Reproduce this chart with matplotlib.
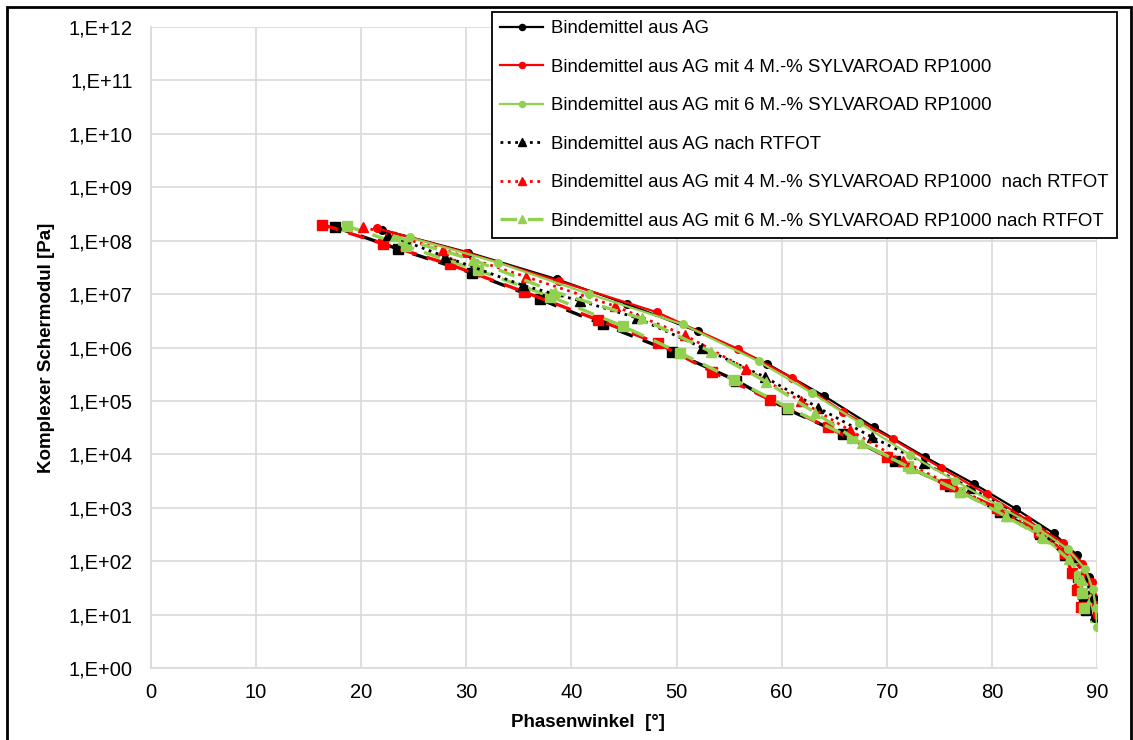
import math
import matplotlib
matplotlib.use("Agg")
import matplotlib.pyplot as plt
from matplotlib.ticker import FixedLocator, FuncFormatter, NullLocator
from matplotlib.patches import Rectangle

plt.rcParams['font.family'] = ['Liberation Sans', 'DejaVu Sans']

# Phase angle [deg] and complex shear modulus [Pa] per binder
ag_x = [22.0, 30.2, 38.6, 45.3, 52.0, 58.6, 64.0, 68.8, 73.6, 78.3, 82.3, 85.9, 88.1, 89.2, 89.7, 89.8]
ag_y = [1.6e8, 6.0e7, 1.9e7, 6.5e6, 2.0e6, 5.0e5, 1.25e5, 3.2e4, 9.0e3, 2.8e3, 9.5e2, 3.3e2, 1.3e2, 5.0e1, 2.0e1, 8.5]

ag4_x = [21.5, 30.0, 38.8, 48.1, 55.8, 61.0, 65.8, 70.6, 75.2, 79.5, 83.3, 86.8, 88.6, 89.5, 89.9, 90.0]
ag4_y = [1.7e8, 6.0e7, 1.75e7, 4.6e6, 9.5e5, 2.7e5, 6.3e4, 1.9e4, 5.5e3, 1.8e3, 6.0e2, 2.2e2, 9.0e1, 4.0e1, 1.5e1, 1.0e1]

ag6_x = [24.6, 33.0, 41.7, 50.6, 57.8, 62.9, 67.4, 72.2, 76.5, 80.6, 84.3, 87.2, 88.9, 89.6, 89.9, 90.0]
ag6_y = [1.15e8, 3.9e7, 1.0e7, 2.7e6, 5.5e5, 1.4e5, 3.9e4, 9.8e3, 3.2e3, 1.1e3, 4.2e2, 1.7e2, 7.0e1, 3.0e1, 1.3e1, 5.9]

rt_x = [22.5, 28.0, 35.4, 40.8, 46.2, 52.4, 58.4, 63.5, 68.6, 73.5, 78.0, 82.0, 85.6, 87.8, 88.9, 89.5, 89.8]
rt_y = [1.3e8, 5.0e7, 1.45e7, 7.5e6, 3.6e6, 1.0e6, 2.8e5, 7.4e4, 2.1e4, 7.0e3, 2.3e3, 8.5e2, 3.0e2, 1.2e2, 5.0e1, 2.2e1, 1.0e1]

rt4_x = [20.2, 27.8, 35.7, 44.1, 50.8, 56.6, 61.8, 66.5, 71.5, 76.4, 80.8, 84.5, 87.2, 88.8, 89.6, 89.9]
rt4_y = [1.8e8, 6.8e7, 2.1e7, 6.0e6, 1.7e6, 4.0e5, 1.0e5, 2.8e4, 7.5e3, 2.5e3, 9.0e2, 3.5e2, 1.4e2, 6.0e1, 2.5e1, 1.1e1]

rt6_x = [23.2, 30.6, 38.4, 46.7, 53.3, 58.5, 63.2, 67.6, 72.3, 77.0, 81.3, 84.8, 87.3, 88.6, 89.4, 89.8]
rt6_y = [1.2e8, 4.4e7, 1.1e7, 3.5e6, 8.3e5, 2.3e5, 6.0e4, 1.6e4, 5.5e3, 2.0e3, 7.0e2, 2.8e2, 1.1e2, 4.5e1, 2.0e1, 9.0]

pav_x = [17.5, 23.5, 30.5, 37.0, 43.0, 49.6, 55.7, 60.5, 65.8, 70.8, 76.0, 80.8, 84.6, 87.0, 88.2, 88.8, 89.0]
pav_y = [1.8e8, 7.0e7, 2.5e7, 8.0e6, 2.7e6, 8.3e5, 2.4e5, 7.0e4, 2.4e4, 7.5e3, 2.5e3, 8.5e2, 3.2e2, 1.3e2, 5.1e1, 2.2e1, 1.2e1]

pav4_x = [16.3, 22.1, 28.4, 35.5, 42.5, 48.2, 53.4, 58.9, 64.4, 70.0, 75.5, 80.5, 84.5, 87.0, 87.6, 88.1, 88.5]
pav4_y = [2.0e8, 8.7e7, 3.6e7, 1.1e7, 3.3e6, 1.2e6, 3.5e5, 1.05e5, 3.2e4, 9.0e3, 2.8e3, 1.0e3, 3.5e2, 1.4e2, 6.0e1, 2.9e1, 1.4e1]

pav6_x = [18.6, 24.3, 31.1, 38.0, 44.9, 50.3, 55.5, 60.6, 66.7, 72.0, 77.0, 81.5, 85.0, 87.5, 88.3, 88.6, 88.8]
pav6_y = [1.9e8, 7.8e7, 2.8e7, 9.0e6, 2.5e6, 8.0e5, 2.5e5, 7.5e4, 2.0e4, 6.0e3, 2.0e3, 7.0e2, 2.7e2, 1.1e2, 5.0e1, 2.5e1, 1.3e1]

labels = [
    "Bindemittel aus AG",
    "Bindemittel aus AG mit 4 M.-% SYLVAROAD RP1000",
    "Bindemittel aus AG mit 6 M.-% SYLVAROAD RP1000",
    "Bindemittel aus AG nach RTFOT",
    "Bindemittel aus AG mit 4 M.-% SYLVAROAD RP1000  nach RTFOT",
    "Bindemittel aus AG mit 6 M.-% SYLVAROAD RP1000 nach RTFOT",
]

x_ticks = [0, 10, 20, 30, 40, 50, 60, 70, 80, 90]
y_exponents = list(range(0, 13))

BLACK = "#000000"
RED = "#ff0000"
GREEN = "#92d050"

fig = plt.figure(figsize=(11.33, 7.40), dpi=100)
ax = fig.add_axes([151 / 1133, 1 - 668 / 740, (1097 - 151) / 1133, (668 - 27) / 740])

dash = (0, (5.0, 3.2))

# lower, dashed band
for xs, ys, c in [(pav_x, pav_y, BLACK), (pav4_x, pav4_y, RED), (pav6_x, pav6_y, GREEN)]:
    ax.plot(xs, ys, color=c, linestyle=dash, linewidth=2.4, marker='s',
            markersize=6.5, label='_nolegend_', zorder=2)

# RTFOT band
ax.plot(rt_x, rt_y, color=BLACK, linestyle=':', linewidth=2.0, marker='^',
        markersize=6.5, label=labels[3], zorder=3)
ax.plot(rt4_x, rt4_y, color=RED, linestyle=':', linewidth=2.0, marker='^',
        markersize=6.5, label=labels[4], zorder=3)
ax.plot(rt6_x, rt6_y, color=GREEN, linestyle=dash, linewidth=2.4, marker='^',
        markersize=6.5, label=labels[5], zorder=3)

# fresh binders, solid
ax.plot(ag_x, ag_y, color=BLACK, linestyle='-', linewidth=1.6, marker='o',
        markersize=5.5, label=labels[0], zorder=4)
ax.plot(ag4_x, ag4_y, color=RED, linestyle='-', linewidth=1.6, marker='o',
        markersize=5.5, label=labels[1], zorder=4)
ax.plot(ag6_x, ag6_y, color=GREEN, linestyle='-', linewidth=1.6, marker='o',
        markersize=5.5, label=labels[2], zorder=4)

ax.set_yscale('log')
ax.set_xlim(0, 90)
ax.set_ylim(1e0, 1e12)
ax.xaxis.set_major_locator(FixedLocator(x_ticks))
ax.yaxis.set_major_locator(FixedLocator([10.0 ** k for k in y_exponents]))
ax.yaxis.set_minor_locator(NullLocator())
ax.yaxis.set_major_formatter(FuncFormatter(lambda v, p: "1,E+%02d" % round(math.log10(v))))

ax.grid(True, which='major', color='#d9d9d9', linewidth=1.2)
ax.set_axisbelow(True)
for side in ['top', 'right']:
    ax.spines[side].set_visible(False)
for side in ['left', 'bottom']:
    ax.spines[side].set_color('#d9d9d9')
    ax.spines[side].set_linewidth(1.2)
ax.tick_params(axis='both', length=0, labelsize=14.5)
ax.tick_params(axis='x', pad=11)
ax.tick_params(axis='y', pad=13)

ax.set_xlabel("Phasenwinkel  [°]", fontsize=13.5, fontweight='bold', labelpad=8)
ax.xaxis.set_label_coords((588 - 151) / 946, -0.072)
ax.set_ylabel("Komplexer Schermodul [Pa]", fontsize=13.5, fontweight='bold', labelpad=10)

handles, labs = ax.get_legend_handles_labels()
order = [labs.index(l) for l in labels]
leg = fig.legend([handles[i] for i in order], [labs[i] for i in order],
                 loc='upper left', bbox_to_anchor=(492 / 1133, 1 - 12 / 740),
                 fontsize=13.4, frameon=True, fancybox=False, edgecolor='#000000',
                 framealpha=1, borderaxespad=0, labelspacing=1.15,
                 handlelength=2.3, handletextpad=0.4, borderpad=0.45,
                 markerscale=0.8)
leg.get_frame().set_linewidth(1.3)

# outer frame
fig.patches.append(Rectangle((7 / 1133, -0.02), 1124 / 1133, 1.02 - 7 / 740,
                             transform=fig.transFigure, fill=False,
                             edgecolor='black', linewidth=2.0))

fig.savefig("out.png", dpi=100)
